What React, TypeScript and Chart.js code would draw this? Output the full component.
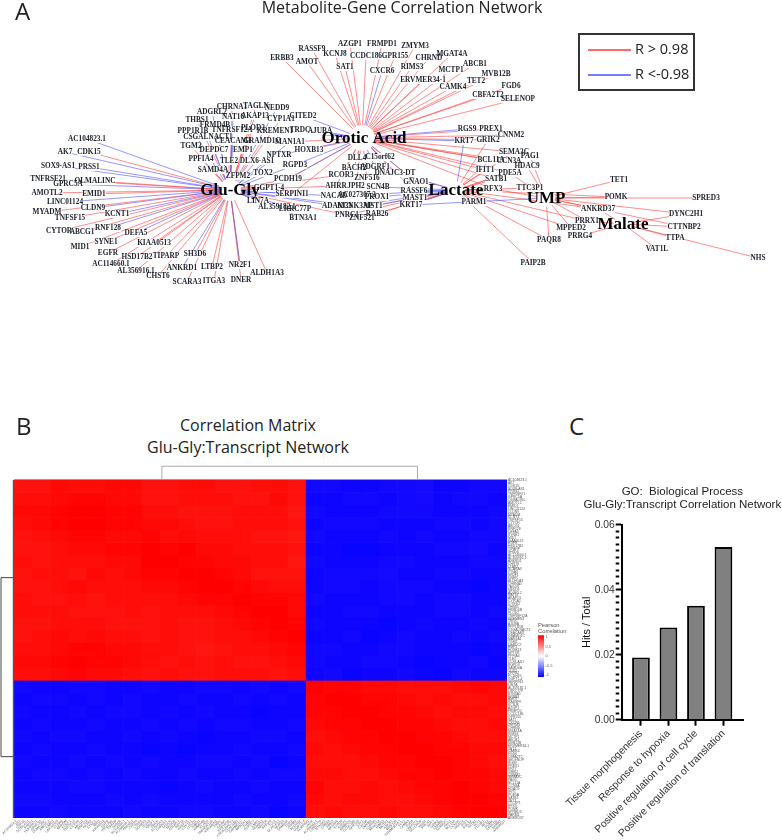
import React, { useEffect, useRef } from "react";
import { Chart, registerables } from "chart.js";

Chart.register(...registerables);

// ---------- Panel A: network layout ----------
const hubLayout: [string, number, number, number][] = [
  ["Orotic Acid", 362, 138, 13],
  ["Glu-Gly", 230, 190, 11],
  ["Lactate", 456, 190, 9],
  ["UMP", 546, 198, 9],
  ["Malate", 623, 224, 9],
];
const geneLayout: [string, number, number][] = [
  ["AC104823.1", 87, 139], ["AK7", 65, 152], ["CDK15", 89, 152], ["SOX9-AS1", 58, 166], ["PRSS1", 89, 167],
  ["TNFRSF21", 48, 179], ["GPRC5A", 68, 184], ["OLMALINC", 95, 181], ["AMOTL2", 47, 193], ["EMID1", 94, 194],
  ["LINC01124", 65, 202], ["CLDN9", 93, 208], ["MYADM", 47, 212], ["KCNT1", 117, 214], ["TNFSF15", 70, 218],
  ["CYTOR", 59, 231], ["ABCG1", 82, 232], ["RNF128", 108, 228], ["DEFA5", 136, 233], ["SYNE1", 106, 242],
  ["MID1", 80, 247], ["KIAA0513", 154, 243], ["EGFR", 108, 253], ["HSD17B2", 137, 257], ["TIPARP", 166, 256],
  ["SH3D6", 195, 254], ["AC114660.1", 111, 264], ["AL356916.1", 136, 271], ["ANKRD1", 182, 268], ["CHST6", 158, 276],
  ["LTBP2", 212, 267], ["SCARA3", 187, 282], ["ITGA3", 214, 281], ["NR2F1", 240, 265], ["DNER", 241, 280],
  ["ALDH1A3", 267, 273], ["CHRNA1", 232, 107], ["TAGLN", 256, 106], ["NEDD9", 277, 108], ["ADGRL2", 212, 112],
  ["NAT16", 233, 117], ["AKAP13", 255, 116], ["CYP1A1", 281, 119], ["CITED2", 303, 116], ["THBS1", 197, 120],
  ["FRMD4B", 215, 125], ["PLOD2", 253, 128], ["TNFRSF12A", 232, 130], ["KREMEN1", 275, 131], ["TRDC", 300, 130],
  ["AJUBA", 320, 131], ["PPP1R1B", 193, 131], ["CSGALNACT1", 208, 137], ["CEACAM1", 233, 141], ["GRAMD1C", 262, 141],
  ["MAN1A1", 290, 142], ["TGM2", 191, 146], ["DEPDC7", 214, 150], ["EMP1", 243, 150], ["HOXB13", 309, 150],
  ["NPTXR", 279, 155], ["PPFIA4", 201, 159], ["TLE2", 229, 161], ["DLX6-AS1", 257, 161], ["RGPD3", 295, 165],
  ["SAMD4A", 213, 170], ["TOX2", 263, 173], ["ZFPM2", 238, 176], ["PCDH19", 288, 179], ["GGPT1-4", 269, 188],
  ["SERPINI1", 292, 194], ["LIN7A", 258, 201], ["AL359182.1", 277, 207], ["LRRC77P", 295, 209], ["BTN3A1", 303, 218],
  ["ERBB3", 282, 58], ["AMOT", 307, 62], ["RASSF9", 312, 49], ["KCNJ8", 335, 54], ["AZGP1", 350, 44],
  ["FRMPD1", 382, 44], ["CCDC186", 366, 56], ["GPR155", 395, 56], ["SAT1", 345, 67], ["CXCR6", 382, 71],
  ["ZMYM3", 415, 46], ["CHRND", 429, 58], ["MGAT4A", 452, 54], ["RIMS3", 412, 67], ["MCTP1", 451, 70],
  ["ABCB1", 475, 64], ["MVB12B", 496, 74], ["ERVMER34-1", 423, 80], ["TET2", 476, 81], ["CAMK4", 453, 87],
  ["FGD6", 511, 86], ["CBFA2T2", 488, 95], ["SELENOP", 518, 99], ["RGS9", 467, 129], ["PREX1", 491, 129],
  ["KRT7", 464, 141], ["GRIK2", 488, 140], ["CNNM2", 511, 135], ["SEMA3C", 514, 152], ["PAG1", 530, 156],
  ["BCL11A", 491, 160], ["CCN3A", 509, 161], ["HDAC9", 527, 166], ["IFIT1", 485, 170], ["PDE5A", 510, 173],
  ["SATB1", 496, 179], ["TET1", 619, 180], ["TTC3P1", 530, 188], ["RFX3", 493, 189], ["POMK", 616, 197],
  ["SPRED3", 706, 198], ["PARM1", 474, 202], ["ANKRD37", 598, 209], ["DYNC2H1", 686, 214], ["PRRX1", 587, 221],
  ["MPPED2", 571, 228], ["CTTNBP2", 684, 227], ["PRRG4", 580, 236], ["TTPA", 675, 238], ["PAQR8", 549, 240],
  ["VAT1L", 657, 249], ["NHS", 758, 258], ["PAIP2B", 533, 263], ["GNAO1", 416, 182], ["RASSF6", 414, 191],
  ["MAST1", 415, 198], ["KRT17", 411, 205], ["C15orf62", 380, 157], ["DLL4", 357, 158], ["BACH2", 354, 168],
  ["ADGRF1", 375, 167], ["ZNF516", 367, 178], ["DNAJC3-DT", 395, 173], ["RCOR3", 341, 175], ["AHRR", 336, 186],
  ["JPH2", 356, 186], ["SCN4B", 378, 187], ["NACAD", 334, 196], ["AC027307.3", 357, 195], ["PROX1", 377, 197],
  ["ADAM33", 337, 206], ["KCNK3AP", 355, 206], ["MST1", 373, 206], ["PNRC1", 347, 215], ["ZNF521", 362, 218],
  ["RAB26", 377, 214],
];

const gluGlyPositive = [
  "CDK15", "AMOTL2", "OLMALINC", "TNFRSF21", "TNFSF15", "MYADM", "EMID1", "CYTOR", "ABCG1", "MID1", "SYNE1",
  "KIAA0513", "EGFR", "HSD17B2", "TIPARP", "SH3D6", "AC114660.1", "AL356916.1", "CHST6", "LTBP2", "SCARA3", "ITGA3",
  "NR2F1", "DNER", "ALDH1A3", "TLE2", "SAMD4A", "ZFPM2", "PPFIA4", "TGM2", "THBS1", "CHRNA1", "TAGLN", "AKAP13",
  "CYP1A1", "PLOD2", "EMP1", "GRAMD1C", "PCDH19", "GGPT1-4", "RCOR3", "AHRR", "BTN3A1", "PNRC1",
];
const gluGlyNegative = [
  "AC104823.1", "AK7", "SOX9-AS1", "PRSS1", "GPRC5A", "LINC01124", "CLDN9", "KCNT1", "RNF128", "DEFA5", "ANKRD1",
  "NR2F1", "TOX2", "DLX6-AS1", "RGPD3", "NPTXR", "LIN7A", "SERPINI1", "LRRC77P", "AL359182.1", "ADAM33", "NACAD",
  "CSGALNACT1", "PPP1R1B", "NEDD9", "TNFRSF12A", "FRMD4B", "NAT16", "ADGRL2", "DEPDC7", "CEACAM1", "MAN1A1", "KCNK3AP",
];
const oroticPositive = [
  "ERBB3", "AMOT", "RASSF9", "KCNJ8", "AZGP1", "FRMPD1", "CCDC186", "GPR155", "SAT1", "ZMYM3", "CHRND", "MGAT4A",
  "RIMS3", "MCTP1", "ABCB1", "MVB12B", "ERVMER34-1", "TET2", "CAMK4", "FGD6", "CBFA2T2", "SELENOP", "PREX1", "GRIK2",
  "CNNM2", "SEMA3C", "BCL11A", "CCN3A", "HDAC9", "PDE5A", "IFIT1", "SATB1", "DLL4", "BACH2", "RCOR3", "AHRR", "JPH2",
  "ZNF516", "C15orf62", "HOXB13", "MAN1A1", "SERPINI1", "PCDH19", "GNAO1", "RFX3", "RASSF6",
];
const oroticNegative = [
  "CXCR6", "RGS9", "KRT7", "AJUBA", "TRDC", "CITED2", "KREMEN1", "RGPD3", "NPTXR", "ADGRF1", "DNAJC3-DT", "GNAO1", "PCDH19",
];
const lactatePositive = [
  "GRIK2", "BCL11A", "IFIT1", "SATB1", "RFX3", "SEMA3C", "TTC3P1", "PARM1", "PAQR8", "PAIP2B", "MPPED2", "ANKRD37",
  "POMK", "PRRX1", "RAB26", "PNRC1", "ZNF521", "KRT17", "MST1", "DNAJC3-DT", "HDAC9", "PDE5A",
];
const lactateNegative = ["KRT7", "SCN4B", "PROX1", "MST1", "RASSF6", "MAST1", "KRT17", "ADGRF1", "AC027307.3", "KCNK3AP"];
const umpPositive = [
  "TET1", "POMK", "SPRED3", "DYNC2H1", "CTTNBP2", "ANKRD37", "PRRX1", "MPPED2", "PAQR8", "TTC3P1", "HDAC9", "PAG1", "PDE5A", "RFX3",
];
const umpNegative = ["KRT17"];
const malatePositive = ["DYNC2H1", "CTTNBP2", "TTPA", "NHS", "VAT1L", "PRRG4", "PRRX1", "ANKRD37"];

// ---------- Panel B: coarse reading of the correlation matrix (0-9 = strength of |r|) ----------
const topGroupSize = 16;
const matrixStrength = [
  "5576677556655665 55665546655", "6678877556665575 66556546556", "7789988665556664 56665556665",
  "6789988776556665 65556665565", "5678877867666554 56665656655", "5567788989776665 66776665546",
  "6566677998877664 56665566655", "5665767889987555 65554665566", "5567666778998766 65565556676",
  "6556566667889887 56665565566", "6665556566678997 66556665565", "5566655565567898 56667656656",
  "5676766565566789 66576566565", "6678877665456678 55665566676", "7789887656565567 56655676657",
  "6678776565566656 65766567566", "5665566566556565 98877666787", "6556565665665656 89988767667",
  "5665655656566766 88998876776", "6566566565655665 78899887667", "5655665656766556 67889988766",
  "6566566767665665 76788998877", "5665656566556576 66678899876", "6556565665665655 77667889887",
  "6665566676566566 86676788987", "5566656566665665 76776678998", "6656665665566576 67667667899",
];
const colorbarTicks = [1, 0.5, 0, -0.5, -1];
const heatGeneLabels = geneLayout.map((g) => g[0]).slice(0, 118);

// ---------- Panel C ----------
const goTerms = [
  "Tissue morphogenesis",
  "Response to hypoxia",
  "Positive regulation of cell cycle",
  "Positive regulation of translation",
];
const goHits = [0.0192, 0.0284, 0.0351, 0.0532];

const RED = "rgba(255,70,70,0.62)";
const BLUE = "rgba(85,85,255,0.62)";

function edges(hubName: string, genes: string[]) {
  const hub = hubLayout.find((h) => h[0] === hubName)!;
  const pts: any[] = [];
  genes.forEach((name) => {
    const g = geneLayout.find((e) => e[0] === name);
    if (!g) return;
    pts.push({ x: hub[1], y: hub[2] }, { x: g[1], y: g[2] }, { x: null, y: null });
  });
  return pts;
}

function strengthToColor(row: number, col: number) {
  const d = Number(matrixStrength[row].replace(" ", "")[col] ?? "5");
  const same = row < topGroupSize === col < topGroupSize;
  const c = Math.round(255 * (1 - (0.84 + 0.018 * d)));
  return same ? `rgb(255,${c},${Math.round(c * 0.7)})` : `rgb(${c},${Math.round(c * 0.4)},255)`;
}

const isMajorHit = (v: number) => Math.abs(v / 0.02 - Math.round(v / 0.02)) < 1e-6;

const networkText = {
  id: "networkText",
  afterDatasetsDraw(chart: any) {
    const { ctx, scales } = chart;
    ctx.save();
    ctx.textAlign = "center";
    ctx.textBaseline = "middle";
    ctx.font = "bold 7.3px 'Liberation Serif'";
    geneLayout.forEach(([name, x, y]) => {
      const w = ctx.measureText(name).width;
      ctx.fillStyle = "rgba(255,255,255,0.92)";
      ctx.fillRect(scales.x.getPixelForValue(x) - w / 2, scales.y.getPixelForValue(y) - 4, w, 8);
    });
    ctx.fillStyle = "#20242c";
    geneLayout.forEach(([name, x, y]) => {
      ctx.fillText(name, scales.x.getPixelForValue(x), scales.y.getPixelForValue(y));
    });
    ctx.fillStyle = "#000";
    ctx.font = "bold 17px 'Liberation Serif'";
    const shift: Record<string, number> = { "Orotic Acid": 2 };
    hubLayout.forEach(([name, x, y]) => {
      ctx.fillText(name, scales.x.getPixelForValue(x + (shift[name] ?? 0)), scales.y.getPixelForValue(y + 1));
    });
    ctx.restore();
  },
};

const dendrograms = {
  id: "dendrograms",
  afterDraw(chart: any) {
    const { ctx, chartArea, scales } = chart;
    const line = (color: string, width: number, pts: number[][]) => {
      ctx.strokeStyle = color;
      ctx.lineWidth = width;
      ctx.beginPath();
      pts.forEach((p, i) => (i ? ctx.lineTo(p[0], p[1]) : ctx.moveTo(p[0], p[1])));
      ctx.stroke();
    };
    const xa = scales.x.getPixelForValue(7.6);
    const xb = scales.x.getPixelForValue(21.6);
    const yTop = scales.y.getPixelForValue(-1.1);
    line("#a9a9a9", 1, [[xa, chartArea.top], [xa, yTop], [xb, yTop], [xb, chartArea.top]]);
    const ya = scales.y.getPixelForValue(7.8);
    const yb = scales.y.getPixelForValue(22.1);
    line("#444", 1, [[chartArea.left, ya], [1, ya], [1, yb], [chartArea.left, yb]]);
    line("#9a9a9a", 1, [[chartArea.left, chartArea.top - 0.5], [chartArea.right, chartArea.top - 0.5]]);
    line("#555", 1.4, [[chartArea.left - 0.5, chartArea.top], [chartArea.left - 0.5, chartArea.bottom]]);
  },
};

// The two-line title is wider than the plot it is centred over, so give its box room on both sides.
const widenTitle = {
  id: "widenTitle",
  afterLayout(chart: any) {
    const t = chart.titleBlock;
    const mid = (chart.chartArea.left + chart.chartArea.right) / 2;
    t.left = mid - 110;
    t.right = mid + 110;
    t.width = 220;
  },
};

const abs = (left: number, top: number, width: number, height: number, extra: any = {}) => ({
  position: "absolute" as const,
  left,
  top,
  width,
  height,
  ...extra,
});

export default function App() {
  const aRef = useRef<HTMLCanvasElement>(null);
  const bRef = useRef<HTMLCanvasElement>(null);
  const barRef = useRef<HTMLCanvasElement>(null);
  const cRef = useRef<HTMLCanvasElement>(null);

  useEffect(() => {
    const off = { legend: { display: false }, tooltip: { enabled: false } };

    const network = new Chart(aRef.current!, {
      type: "scatter",
      data: {
        datasets: [
          {
            label: "R > 0.98",
            data: [
              ...edges("Glu-Gly", gluGlyPositive),
              ...edges("Orotic Acid", oroticPositive),
              ...edges("Lactate", lactatePositive),
              ...edges("UMP", umpPositive),
              ...edges("Malate", malatePositive),
            ],
            showLine: true,
            spanGaps: false,
            borderColor: RED,
            borderWidth: 1,
            pointRadius: 0,
            order: 3,
          },
          {
            label: "R <-0.98",
            data: [
              ...edges("Glu-Gly", gluGlyNegative),
              ...edges("Orotic Acid", oroticNegative),
              ...edges("Lactate", lactateNegative),
              ...edges("UMP", umpNegative),
            ],
            showLine: true,
            spanGaps: false,
            borderColor: BLUE,
            borderWidth: 1,
            pointRadius: 0,
            order: 2,
          },
          {
            label: "Metabolites",
            data: hubLayout.map((h) => ({ x: h[1], y: h[2] })),
            pointRadius: hubLayout.map((h) => h[3]),
            pointBackgroundColor: "#fff",
            pointBorderWidth: 0,
            order: 1,
          },
        ],
      } as any,
      options: {
        animation: false,
        responsive: false,
        events: [],
        layout: { padding: 0, autoPadding: false },
        plugins: {
          ...off,
          title: {
            display: true,
            text: "Metabolite-Gene Correlation Network",
            color: "#222",
            font: { family: "'Open Sans'", size: 16, weight: "normal", lineHeight: 1 },
            padding: { top: 0, bottom: 4 },
          },
        },
        scales: {
          x: { type: "linear", display: false, min: 0, max: 804 },
          y: { type: "linear", display: false, min: 20, max: 340, reverse: true },
        },
      } as any,
      plugins: [networkText],
    });

    const columnIds = matrixStrength.map((_, i) => String(i + 1));
    const heat = new Chart(bRef.current!, {
      type: "bar",
      data: {
        labels: columnIds,
        datasets: matrixStrength.map((_, row) => ({
          label: `row ${row + 1}`,
          data: columnIds.map(() => 1),
          backgroundColor: columnIds.map((__, col) => strengthToColor(row, col)),
          borderWidth: 0,
          barPercentage: 1,
          categoryPercentage: 1,
        })),
      } as any,
      options: {
        animation: false,
        responsive: false,
        events: [],
        layout: { padding: { left: 14, top: 20, right: 0, bottom: 0 }, autoPadding: false },
        plugins: off,
        scales: {
          x: { type: "category", stacked: true, display: false },
          y: { type: "linear", stacked: true, display: false, min: 0, max: matrixStrength.length, reverse: true },
          xGenes: {
            type: "category",
            axis: "x",
            position: "bottom",
            labels: heatGeneLabels,
            grid: { display: false, drawTicks: false },
            border: { display: false },
            ticks: {
              autoSkip: false,
              minRotation: 45,
              maxRotation: 45,
              padding: 1,
              color: "#555",
              font: { family: "'Liberation Sans'", size: 3.4 },
            },
            afterFit(s: any) {
              s.height = 22;
              s.paddingLeft = 0;
              s.paddingRight = 0;
            },
          },
          yGenes: {
            type: "category",
            axis: "y",
            position: "right",
            labels: heatGeneLabels,
            grid: { display: false, drawTicks: false },
            border: { display: false },
            ticks: {
              autoSkip: false,
              padding: 1,
              color: "#555",
              font: { family: "'Liberation Sans'", size: 3.4 },
            },
            afterFit(s: any) {
              s.width = 28;
              s.paddingTop = 0;
              s.paddingBottom = 0;
            },
          },
        },
      } as any,
      plugins: [dendrograms],
    });

    const colorbar = new Chart(barRef.current!, {
      type: "bar",
      data: {
        labels: ["r"],
        datasets: [
          {
            data: [[-1.1, 1.1]],
            barPercentage: 1,
            categoryPercentage: 1,
            borderWidth: 0,
            backgroundColor(ctx: any) {
              const area = ctx.chart.chartArea;
              if (!area) return "#fff";
              const g = ctx.chart.ctx.createLinearGradient(0, area.top, 0, area.bottom);
              g.addColorStop(0, "#ff0000");
              g.addColorStop(0.5, "#ffffff");
              g.addColorStop(1, "#0000ff");
              return g;
            },
          },
        ],
      } as any,
      options: {
        animation: false,
        responsive: false,
        events: [],
        layout: { padding: { left: 1, right: 0, top: 0, bottom: 3 }, autoPadding: false },
        plugins: {
          ...off,
          title: {
            display: true,
            align: "start",
            text: ["Pearson", "Correlation"],
            color: "#555",
            font: { family: "'Liberation Sans'", size: 5.8, weight: "normal", lineHeight: 1.05 },
            padding: { top: 0, bottom: 1 },
          },
        },
        scales: {
          x: { display: false },
          y: {
            position: "right",
            min: -1.1,
            max: 1.1,
            grid: { display: false, drawTicks: false },
            border: { display: false },
            afterBuildTicks(s: any) {
              s.ticks = colorbarTicks.map((value) => ({ value }));
            },
            ticks: {
              padding: 1.5,
              color: "#666",
              font: { family: "'Liberation Sans'", size: 4 },
              callback: (v: number) => String(v),
            },
            afterFit(s: any) {
              s.width = 26;
              s.paddingTop = 0;
              s.paddingBottom = 0;
            },
          },
        },
      } as any,
    });

    const bars = new Chart(cRef.current!, {
      type: "bar",
      data: {
        datasets: [
          {
            label: "Hits / Total",
            data: goHits.map((y, x) => ({ x, y })),
            backgroundColor: "#808080",
            borderColor: "#000",
            borderWidth: 2,
            barPercentage: 0.645,
            categoryPercentage: 1,
          },
        ],
      } as any,
      options: {
        animation: false,
        responsive: false,
        events: [],
        layout: { padding: { left: 0, right: 39, top: 0, bottom: 0 }, autoPadding: false },
        plugins: {
          ...off,
          title: {
            display: true,
            fullSize: false,
            text: ["GO:  Biological Process", "Glu-Gly:Transcript Correlation Network"],
            color: "#222",
            font: { family: "'Liberation Sans'", size: 11.5, weight: "normal", lineHeight: 1.13 },
            padding: { top: 5, bottom: 14 },
          },
        },
        scales: {
          x: {
            type: "linear",
            min: -0.7,
            max: 3.71,
            offset: false,
            grid: { offset: false, drawOnChartArea: false, tickColor: "#000", tickWidth: 2, tickLength: 6 },
            border: { color: "#000", width: 2 },
            afterBuildTicks(s: any) {
              s.ticks = goTerms.map((_, value) => ({ value }));
            },
            ticks: {
              autoSkip: false,
              minRotation: 45,
              maxRotation: 45,
              padding: 2,
              color: "#333",
              font: { family: "'Liberation Sans'", size: 10.3 },
              callback: (v: number) => goTerms[v] ?? "",
            },
            afterFit(s: any) {
              s.height = 120.3;
              s.paddingLeft = 0;
              s.paddingRight = 0;
            },
          },
          y: {
            min: 0,
            max: 0.06,
            position: "left",
            grid: {
              drawOnChartArea: false,
              tickColor: "#000",
              tickWidth: 2,
              tickLength: 6,
              tickBorderDash: (c: any) => (isMajorHit(c.tick.value) ? [] : [3.5, 10]),
            },
            border: { color: "#000", width: 2 },
            ticks: {
              stepSize: 0.002,
              autoSkip: false,
              padding: 1,
              color: "#333",
              font: { family: "'Liberation Sans'", size: 10.3 },
              callback: (v: number) => (isMajorHit(v) ? v.toFixed(2) : ""),
            },
            title: {
              display: true,
              text: "Hits / Total",
              color: "#111",
              font: { family: "'Liberation Sans'", size: 11 },
              padding: { top: 25, bottom: 0 },
            },
            afterFit(s: any) {
              s.width = 66.7;
              s.paddingTop = 0;
              s.paddingBottom = 0;
            },
          },
        },
      } as any,
      plugins: [widenTitle],
    });

    return () => {
      network.destroy();
      heat.destroy();
      colorbar.destroy();
      bars.destroy();
    };
  }, []);

  const sans = "'Open Sans', sans-serif";
  const letter = { fontFamily: sans, fontSize: 24, lineHeight: "24px", color: "#222" };
  const soft = { filter: "blur(0.35px)" };
  return (
    <div style={abs(0, 0, 782, 840, { overflow: "hidden", background: "#fff" })}>
      <canvas ref={aRef} width={804} height={340} style={abs(0, 0, 804, 340, soft)} />
      <canvas ref={bRef} width={535} height={380} style={abs(0, 460, 535, 380, soft)} />
      <canvas ref={barRef} width={33} height={58} style={abs(537, 622, 33, 58, soft)} />
      <canvas ref={cRef} width={227} height={360} style={abs(555, 480, 227, 360, soft)} />

      <div style={abs(15, -1, 24, 24, letter)}>A</div>
      <div style={abs(16, 414, 24, 24, letter)}>B</div>
      <div style={abs(569, 414, 24, 24, letter)}>C</div>
      <div
        style={abs(48, 414, 400, 44, {
          fontFamily: sans,
          fontSize: 16,
          lineHeight: "22px",
          textAlign: "center",
          color: "#222",
        })}
      >
        Correlation Matrix
        <br />
        Glu-Gly:Transcript Network
      </div>

      <div style={abs(578, 33, 117, 58, { border: "2px solid #333", boxSizing: "border-box" })}>
        <div style={abs(8, 14, 43, 1.5, { background: "#ff6a6a" })} />
        <div style={abs(55, 4, 60, 20, { fontFamily: sans, fontSize: 14.5, lineHeight: "20px", color: "#222" })}>
          R &gt; 0.98
        </div>
        <div style={abs(8, 39, 43, 1.5, { background: "#7a7aff" })} />
        <div style={abs(55, 29, 60, 20, { fontFamily: sans, fontSize: 14.5, lineHeight: "20px", color: "#222" })}>
          R &lt;-0.98
        </div>
      </div>
    </div>
  );
}
